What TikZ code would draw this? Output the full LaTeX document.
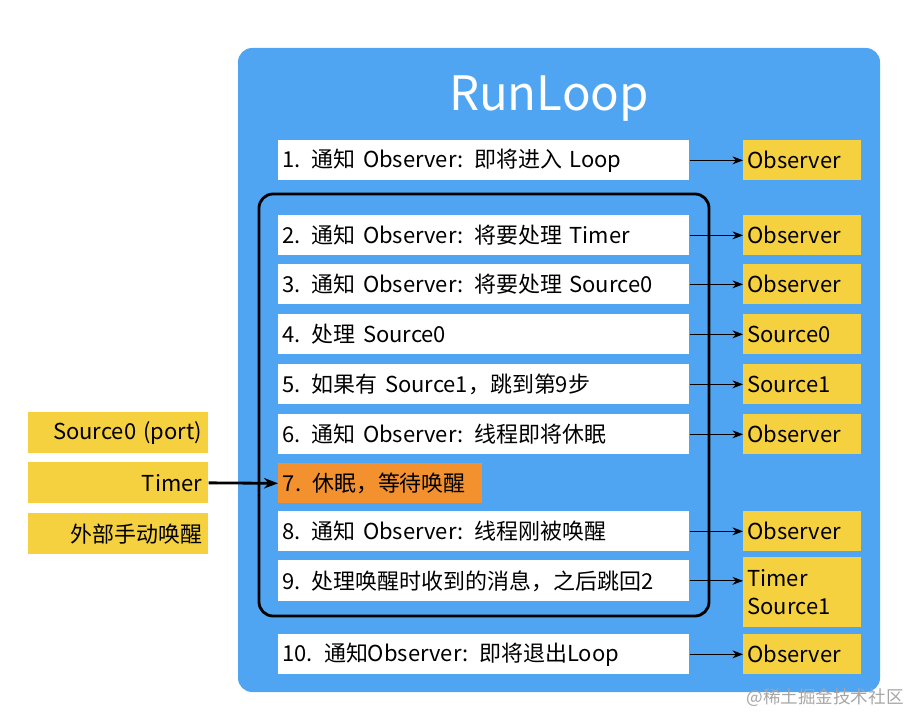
\documentclass[tikz,border=0pt]{standalone}
\usepackage{fontspec}
\setmainfont{Noto Sans CJK SC}
\usetikzlibrary{arrows.meta}
\definecolor{blu}{HTML}{4FA5F2}
\definecolor{yel}{HTML}{F5D03F}
\definecolor{org}{HTML}{F2912E}
\begin{document}
\begin{tikzpicture}[x=0.02cm,y=-0.02cm,
  wb/.style={fill=white,draw=none,minimum height=0.8cm,anchor=north west,inner sep=0pt,text width=#1,align=left,font=\fontsize{12.5}{14}\selectfont},
  yb/.style={fill=yel,draw=none,minimum width=2.36cm,minimum height=0.8cm,anchor=north west,inner sep=0pt,text width=2.2cm,align=left,font=\fontsize{12.5}{14}\selectfont},
  lb/.style={fill=yel,draw=none,minimum width=3.6cm,minimum height=0.82cm,anchor=north west,inner sep=0pt,text width=3.35cm,align=right,font=\fontsize{12.5}{14}\selectfont},
  ar/.style={-{Stealth[length=6pt]},thin}]
\useasboundingbox (0,0) rectangle (910,716);
\fill[blu,rounded corners=8pt] (238,48) rectangle (880,692);
\node[white,font=\fontsize{27}{30}\selectfont] (title) at (549,99) {RunLoop};
\draw[line width=1.6pt,rounded corners=8pt] (259,194) rectangle (709,616);
\foreach \n/\y/\t/\o in {1/140/1. 通知 Observer: 即将进入 Loop/Observer,
  2/215/2. 通知 Observer: 将要处理 Timer/Observer,
  3/264/3. 通知 Observer: 将要处理 Source0/Observer,
  4/314/4. 处理 Source0/Source0,
  5/364/5. 如果有 Source1，跳到第9步/Source1,
  6/414/6. 通知 Observer: 线程即将休眠/Observer,
  8/511/8. 通知 Observer: 线程刚被唤醒/Observer,
  10/634/10. 通知Observer: 即将退出Loop/Observer}{
  \node[wb=8.05cm,minimum width=8.22cm] (w\n) at (278,\y) {\t};
  \node[yb] (y\n) at (743,\y) {\o};
  \draw[ar] (w\n.east) -- (y\n.west);
}
\node[wb=8.05cm,minimum width=8.22cm,minimum height=0.82cm] (w9) at (278,560) {9. 处理唤醒时收到的消息，之后跳回2};
\node[yb,minimum height=1.4cm] (y9) at (743,557) {Timer\\[2pt]Source1};
\draw[ar] (w9.east) -- (w9.east -| y9.west);
\node[wb=3.9cm,fill=org,minimum width=4.08cm,minimum height=0.8cm] (w7) at (278,463) {7. 休眠，等待唤醒};
\node[lb] (l1) at (28,412) {Source0 (port)};
\node[lb] (l2) at (28,462) {Timer};
\node[lb] (l3) at (28,513) {外部手动唤醒};
\draw[-{Stealth[length=8pt]},line width=1.6pt] (l2.east) -- (w7.west);
\node[gray!70,font=\fontsize{10}{12}\selectfont,anchor=east,inner sep=0pt] (wm) at (904,698) {@稀土掘金技术社区};
\end{tikzpicture}
\end{document}
